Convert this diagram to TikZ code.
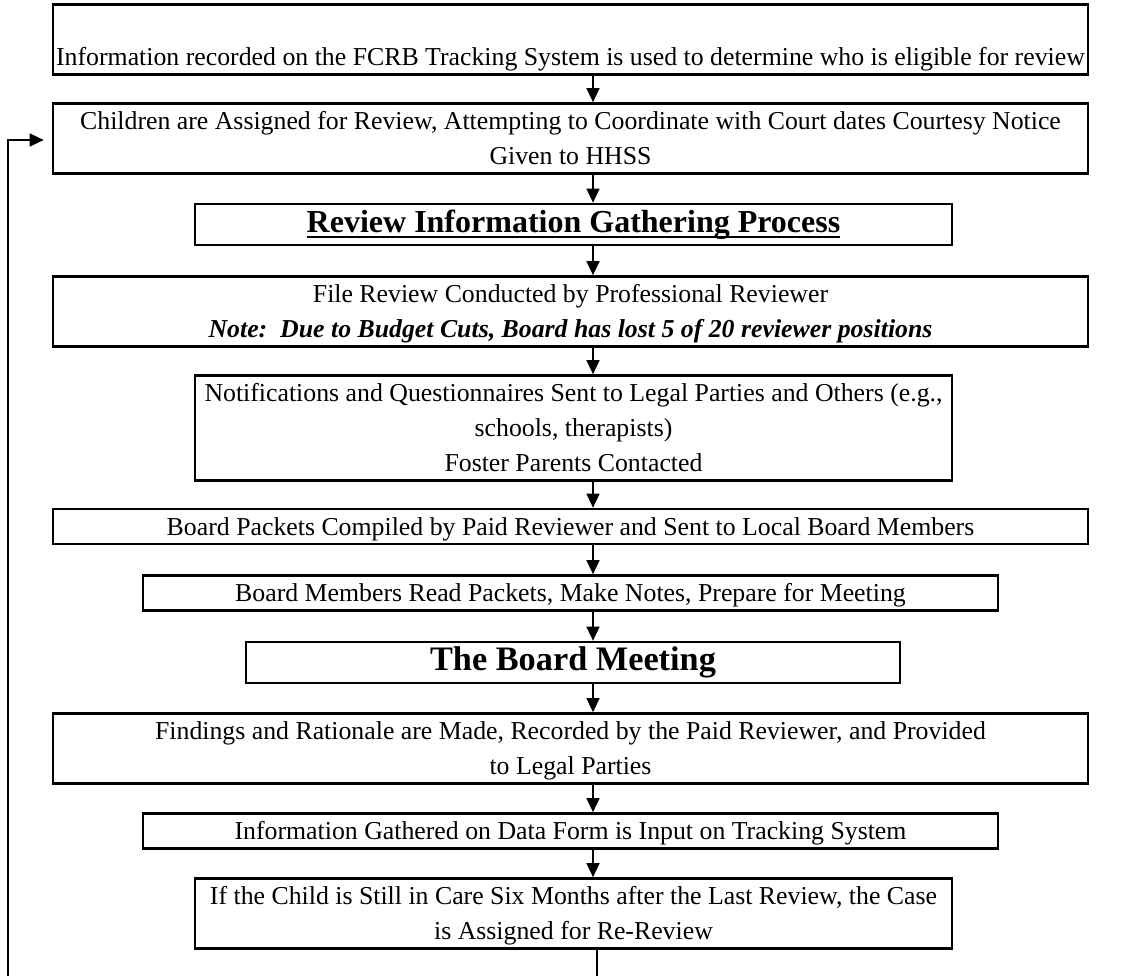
\documentclass[tikz,border=0pt]{standalone}
\usepackage{fontspec}
\setmainfont{Liberation Serif}
\usetikzlibrary{arrows.meta}
\newcommand\st{\rule[-9pt]{0pt}{35pt}}
\newcommand\wordul[1]{\setbox0\hbox{#1}\rlap{\rule[-5.5pt]{\wd0}{2pt}}\box0}
\begin{document}
\begin{tikzpicture}[x=1pt,y=-1pt,
  box/.style={draw, line width=2.7pt, inner sep=0pt, align=center,
    font=\fontsize{25.8}{35}\selectfont},
  wide/.style={minimum width=1035pt},
  mid/.style={minimum width=757pt},
  medium/.style={minimum width=855pt},
  titlefont/.style={font=\fontsize{32}{40}\selectfont\bfseries},
  arr/.style={line width=1.5pt, -{Triangle[length=14pt,width=13pt]}},
  loopline/.style={line width=1.6pt, -{Triangle[length=14pt,width=13pt]}}]
\useasboundingbox (0,0) rectangle (1132,976);
\fill[white] (0,0) rectangle (1132,976);
\clip (0,0) rectangle (1132,976);

\node[box, wide, minimum height=67pt] (b1) at (570.5,39.5)
  {\st\\\st Information recorded on the FCRB Tracking System is used to determine who is eligible for review};
\node[box, wide, minimum height=67pt] (b2) at (570.5,138.5)
  {\st Children are Assigned for Review, Attempting to Coordinate with Court dates Courtesy Notice\\\st Given to HHSS};
\node[box, mid, minimum height=41pt, titlefont] (b3) at (573.5,224.5)
  {\strut\wordul{Review Information Gathering Process}};
\node[box, wide, minimum height=69pt] (b4) at (570.5,311.5)
  {\st File Review Conducted by Professional Reviewer\\\st\textbf{\textit{Note:\ \ Due to Budget Cuts, Board has lost 5 of 20 reviewer positions}}};
\node[box, mid, minimum height=100pt] (b5) at (573.5,428)
  {\st Notifications and Questionnaires Sent to Legal Parties and Others (e.g.,\\\st schools, therapists)\\\st Foster Parents Contacted};
\node[box, wide, minimum height=33pt] (b6) at (570.5,526.5)
  {\st Board Packets Compiled by Paid Reviewer and Sent to Local Board Members};
\node[box, medium, minimum height=34pt] (b7) at (570.5,593)
  {\st Board Members Read Packets, Make Notes, Prepare for Meeting};
\node[box, minimum width=654pt, minimum height=41pt, font=\fontsize{34.3}{40}\selectfont\bfseries] (b8) at (573,662.5)
  {\strut The Board Meeting};
\node[box, wide, minimum height=67pt] (b9) at (570.5,748.5)
  {\st Findings and Rationale are Made, Recorded by the Paid Reviewer, and Provided\\\st to Legal Parties};
\node[box, medium, minimum height=34pt] (b10) at (570.5,831)
  {\st Information Gathered on Data Form is Input on Tracking System};
\node[box, mid, minimum height=67pt] (b11) at (573.5,913.5)
  {\st If the Child is Still in Care Six Months after the Last Review, the Case\\\st is Assigned for Re-Review};

\coordinate (ax) at (593,0);
\coordinate (lx) at (597,0);
\coordinate (ll) at (8,1000);

\draw[arr] (b1.south -| ax) -- (b2.north -| ax);
\draw[arr] (b2.south -| ax) -- (b3.north -| ax);
\draw[arr] (b3.south -| ax) -- (b4.north -| ax);
\draw[arr] (b4.south -| ax) -- (b5.north -| ax);
\draw[arr] (b5.south -| ax) -- (b6.north -| ax);
\draw[arr] (b6.south -| ax) -- (b7.north -| ax);
\draw[arr] (b7.south -| ax) -- (b8.north -| ax);
\draw[arr] (b8.south -| ax) -- (b9.north -| ax);
\draw[arr] (b9.south -| ax) -- (b10.north -| ax);
\draw[arr] (b10.south -| ax) -- (b11.north -| ax);

\draw[loopline] (b11.south -| lx) |- (ll) |- ([xshift=-8pt,yshift=-1.5pt]b2.west);
\end{tikzpicture}
\end{document}
